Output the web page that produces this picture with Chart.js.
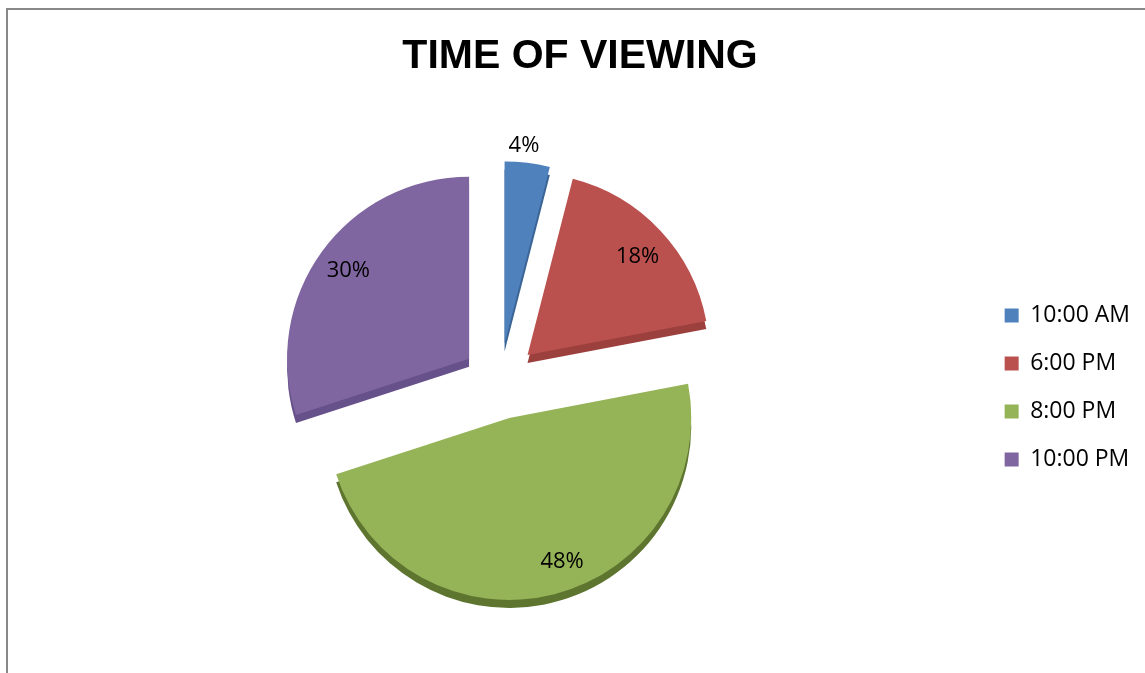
<!DOCTYPE html>
<html lang="en">
<head>
    <meta charset="UTF-8">
    <title>Time of Viewing</title>
    <script src="https://cdn.jsdelivr.net/npm/chart.js"></script>
    <style>
        html, body { margin: 0; padding: 0; overflow: hidden; background: #fff; }
        #frame {
            position: absolute; left: 6px; top: 8px;
            width: 1153px; height: 663px;
            border: 2px solid #888888;
        }
    </style>
</head>
<body>

    <!-- Chart frame -->
    <div id="frame">
        <canvas id="viewingChart"></canvas>
    </div>

    <script>
        // Share of viewers by time slot (percent)
        const slots = ['10:00 AM', '6:00 PM', '8:00 PM', '10:00 PM'];
        const shares = [4, 18, 48, 30];

        const topColors = ['#4F81BD', '#BA514E', '#95B357', '#8066A1'];
        const sideColors = ['#3C6596', '#9C403D', '#5E7530', '#67518A'];

        const EXPLODE = 38;   // px each slice is pulled out
        const DEPTH = 8;      // px thickness of the pie
        // label placement per slice: distance as fraction of radius, turn in degrees
        const labelDist = [1.09, 0.81, 0.84, 0.82];
        const labelTurn = [-1.6, 1.5, -5.8, 0];

        // pull every slice outwards along its middle angle
        const explodePlugin = {
            id: 'explode',
            afterDatasetsUpdate(chart) {
                chart.getDatasetMeta(0).data.forEach(arc => {
                    const mid = (arc.startAngle + arc.endAngle) / 2;
                    arc.x += Math.cos(mid) * EXPLODE;
                    arc.y += Math.sin(mid) * EXPLODE;
                });
            }
        };

        // darker copy of each slice underneath gives the 3D edge
        const depthPlugin = {
            id: 'depth',
            beforeDatasetsDraw(chart) {
                const ctx = chart.ctx;
                chart.getDatasetMeta(0).data.forEach((arc, i) => {
                    ctx.save();
                    ctx.fillStyle = sideColors[i];
                    ctx.beginPath();
                    ctx.moveTo(arc.x, arc.y + DEPTH);
                    ctx.arc(arc.x, arc.y + DEPTH, arc.outerRadius, arc.startAngle, arc.endAngle);
                    ctx.closePath();
                    ctx.fill();
                    ctx.restore();
                });
            }
        };

        // percentage labels
        const labelPlugin = {
            id: 'sliceLabels',
            afterDatasetsDraw(chart) {
                const ctx = chart.ctx;
                const total = shares.reduce((a, b) => a + b, 0);
                ctx.save();
                ctx.font = '22px "Open Sans"';
                ctx.fillStyle = '#000';
                ctx.textAlign = 'center';
                ctx.textBaseline = 'middle';
                chart.getDatasetMeta(0).data.forEach((arc, i) => {
                    const a = (arc.startAngle + arc.endAngle) / 2 + labelTurn[i] * Math.PI / 180;
                    const r = arc.outerRadius * labelDist[i];
                    const pct = Math.round(shares[i] / total * 100) + '%';
                    ctx.fillText(pct, arc.x + Math.cos(a) * r, arc.y + Math.sin(a) * r);
                });
                ctx.restore();
            }
        };

        const ctx = document.getElementById('viewingChart').getContext('2d');

        const viewingChart = new Chart(ctx, {
            type: 'pie',
            data: {
                labels: slots,
                datasets: [{
                    data: shares,
                    backgroundColor: topColors,
                    borderWidth: 0,
                    radius: 182
                }]
            },
            options: {
                responsive: true,
                maintainAspectRatio: false,
                animation: false,
                layout: {
                    padding: { left: 12, right: 21, top: 0, bottom: 177 }
                },
                plugins: {
                    title: {
                        display: true,
                        text: 'TIME OF VIEWING',
                        color: '#000',
                        font: { family: '"Liberation Sans", Arial, sans-serif', size: 41, weight: 'bold', lineHeight: 1.2 },
                        padding: { top: 22, bottom: 185 }
                    },
                    legend: {
                        position: 'right',
                        align: 'end',
                        labels: {
                            color: '#000',
                            font: { family: '"Open Sans"', size: 23 },
                            boxWidth: 14,
                            boxHeight: 14,
                            padding: 25
                        }
                    },
                    tooltip: { enabled: false }
                }
            },
            plugins: [explodePlugin, depthPlugin, labelPlugin]
        });
    </script>
</body>
</html>
